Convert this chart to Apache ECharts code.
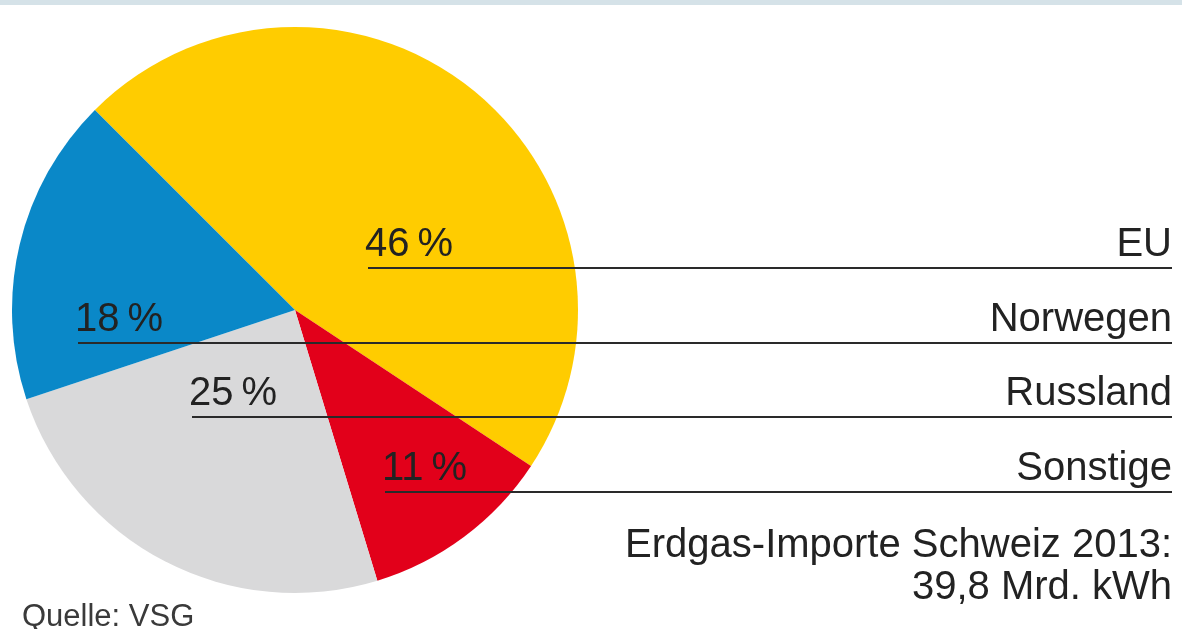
<!DOCTYPE html>
<html>
<head>
<meta charset="utf-8">
<script src="https://cdn.jsdelivr.net/npm/echarts@6/dist/echarts.min.js"></script>
<style>
html,body{margin:0;padding:0;background:#fff;}
#chart{width:1182px;height:629px;}
</style>
</head>
<body>
<div id="chart"></div>
<script>
// Slices in clockwise drawing order starting at upper-left
const categories = ['EU', 'Sonstige', 'Russland', 'Norwegen'];
const values = [46.8, 11.0, 24.6, 17.6];
const sliceColors = ['#FFCC00', '#E2001A', '#D9D9DA', '#0A88C8'];
// Label rows (top to bottom) and printed percentages
const rowNames = ['EU', 'Norwegen', 'Russland', 'Sonstige'];
const rowPercents = ['46\u2009%', '18\u2009%', '25\u2009%', '11\u2009%'];
const titleLines = ['Erdgas-Importe Schweiz 2013:', '39,8 Mrd. kWh'];
const sourceText = 'Quelle: VSG';

const chart = echarts.init(document.getElementById('chart'), null, {renderer: 'canvas'});

const FAMILY = 'Liberation Sans';
const TXT = '#222222';
const rowLineY = [268, 343, 417, 492];
const rowLineX = [368, 78, 192, 385];
const rightX = 1172;

function txt(x, y, text, align, size, color) {
  return {
    type: 'text', z: 10, x: x, y: y,
    style: {text: text, fontFamily: FAMILY, fontSize: size, fill: color || TXT,
            textAlign: align, textVerticalAlign: 'bottom'}
  };
}

const graphics = [
  {type: 'rect', shape: {x: 0, y: 0, width: 1182, height: 5}, style: {fill: '#D5E2E8'}, z: 10}
];
rowNames.forEach((name, i) => {
  graphics.push({
    type: 'line', z: 10,
    shape: {x1: rowLineX[i], y1: rowLineY[i], x2: rightX, y2: rowLineY[i]},
    style: {stroke: '#2a2a2a', lineWidth: 2.2}
  });
  graphics.push(txt(rowLineX[i] - 3, rowLineY[i] - 3, rowPercents[i], 'left', 40));
  graphics.push(txt(rightX, rowLineY[i] - 3, name, 'right', 40));
});
graphics.push(txt(rightX, 566, titleLines[0], 'right', 40));
graphics.push(txt(rightX, 608, titleLines[1], 'right', 40));
graphics.push(txt(22, 633, sourceText, 'left', 31, '#3a3a3a'));

chart.setOption({
  animation: false,
  backgroundColor: '#ffffff',
  series: [{
    type: 'pie',
    center: [295, 310],
    radius: [0, 283],
    startAngle: 135,
    clockwise: true,
    label: {show: false},
    labelLine: {show: false},
    emphasis: {disabled: true},
    itemStyle: {borderWidth: 0},
    data: categories.map((c, i) => ({name: c, value: values[i], itemStyle: {color: sliceColors[i]}}))
  }],
  graphic: graphics
});
</script>
</body>
</html>
